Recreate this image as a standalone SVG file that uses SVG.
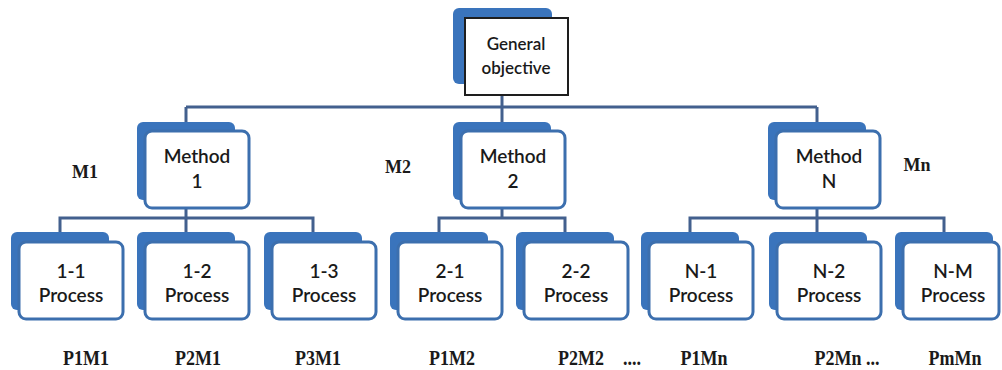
<svg xmlns="http://www.w3.org/2000/svg" width="1002" height="370" viewBox="0 0 1002 370">
  <style>
    .back { fill: #3a74bc; }
    .front { fill: #ffffff; stroke: #3c6fae; stroke-width: 3; }
    .topfront { fill: #ffffff; stroke: #1e1e1e; stroke-width: 2; }
    .conn { stroke: #43608e; stroke-width: 3; fill: none; }
    .nt { font-family: Lato, "Liberation Sans", sans-serif; font-size: 19px; font-weight: 600; fill: #1a1a1a; text-anchor: middle; }
    .gt { font-family: Lato, "Liberation Sans", sans-serif; font-size: 17px; font-weight: 600; fill: #1a1a1a; text-anchor: middle; }
    .lb { font-family: "Liberation Serif", serif; font-size: 18px; font-weight: bold; fill: #1a1a1a; text-anchor: middle; }
  </style>
  <rect width="1002" height="370" fill="#ffffff"/>

  <g id="connectors">
    <line class="conn" x1="502" y1="95" x2="502" y2="122"/>
    <line class="conn" x1="186" y1="107" x2="817" y2="107"/>
    <line class="conn" x1="186" y1="107" x2="186" y2="124"/>
    <line class="conn" x1="817" y1="107" x2="817" y2="124"/>
    <line class="conn" x1="186" y1="208" x2="186" y2="218"/>
    <line class="conn" x1="502" y1="208" x2="502" y2="218"/>
    <line class="conn" x1="817" y1="208" x2="817" y2="218"/>
    <path class="conn" d="M60 234 V218 H313 V234 M186 218 V234"/>
    <path class="conn" d="M439 234 V218 H565 V234"/>
    <path class="conn" d="M690 234 V218 H944 V234 M817 218 V234"/>
  </g>

  <g id="general">
    <rect class="back" x="453" y="8" width="99" height="76" rx="6"/>
    <rect class="topfront" x="465" y="18" width="103" height="77"/>
    <text class="gt" x="516" y="50">General</text>
    <text class="gt" x="516" y="74">objective</text>
  </g>

  <g id="method1">
    <rect class="back" x="137" y="122" width="98" height="78" rx="6"/>
    <rect class="front" x="145" y="131" width="104" height="77" rx="7"/>
    <text class="nt" x="197" y="163">Method</text>
    <text class="nt" x="197" y="188">1</text>
  </g>
  <g id="method2">
    <rect class="back" x="453" y="122" width="98" height="78" rx="6"/>
    <rect class="front" x="461" y="131" width="104" height="77" rx="7"/>
    <text class="nt" x="513" y="163">Method</text>
    <text class="nt" x="513" y="188">2</text>
  </g>
  <g id="methodN">
    <rect class="back" x="768" y="122" width="98" height="78" rx="6"/>
    <rect class="front" x="776" y="131" width="104" height="77" rx="7"/>
    <text class="nt" x="829" y="163">Method</text>
    <text class="nt" x="829" y="188">N</text>
  </g>

  <g id="p1-1">
    <rect class="back" x="11" y="232" width="98" height="78" rx="6"/>
    <rect class="front" x="19" y="242" width="104" height="77" rx="7"/>
    <text class="nt" x="71" y="278">1-1</text>
    <text class="nt" x="71" y="302">Process</text>
  </g>
  <g id="p1-2">
    <rect class="back" x="137" y="232" width="98" height="78" rx="6"/>
    <rect class="front" x="145" y="242" width="104" height="77" rx="7"/>
    <text class="nt" x="197" y="278">1-2</text>
    <text class="nt" x="197" y="302">Process</text>
  </g>
  <g id="p1-3">
    <rect class="back" x="264" y="232" width="98" height="78" rx="6"/>
    <rect class="front" x="272" y="242" width="104" height="77" rx="7"/>
    <text class="nt" x="324" y="278">1-3</text>
    <text class="nt" x="324" y="302">Process</text>
  </g>
  <g id="p2-1">
    <rect class="back" x="390" y="232" width="98" height="78" rx="6"/>
    <rect class="front" x="398" y="242" width="104" height="77" rx="7"/>
    <text class="nt" x="450" y="278">2-1</text>
    <text class="nt" x="450" y="302">Process</text>
  </g>
  <g id="p2-2">
    <rect class="back" x="516" y="232" width="98" height="78" rx="6"/>
    <rect class="front" x="524" y="242" width="104" height="77" rx="7"/>
    <text class="nt" x="576" y="278">2-2</text>
    <text class="nt" x="576" y="302">Process</text>
  </g>
  <g id="pN-1">
    <rect class="back" x="641" y="232" width="98" height="78" rx="6"/>
    <rect class="front" x="649" y="242" width="104" height="77" rx="7"/>
    <text class="nt" x="701" y="278">N-1</text>
    <text class="nt" x="701" y="302">Process</text>
  </g>
  <g id="pN-2">
    <rect class="back" x="769" y="232" width="98" height="78" rx="6"/>
    <rect class="front" x="777" y="242" width="104" height="77" rx="7"/>
    <text class="nt" x="829" y="278">N-2</text>
    <text class="nt" x="829" y="302">Process</text>
  </g>
  <g id="pN-M">
    <rect class="back" x="895" y="232" width="98" height="78" rx="6"/>
    <rect class="front" x="903" y="242" width="96" height="77" rx="7"/>
    <text class="nt" x="953" y="278">N-M</text>
    <text class="nt" x="953" y="302">Process</text>
  </g>

  <g id="labels">
    <text class="lb" x="85" y="178">M1</text>
    <text class="lb" x="398" y="173">M2</text>
    <text class="lb" x="917" y="171">Mn</text>
    <g transform="translate(0,365) scale(1,1.2)">
      <text class="lb" x="86" y="0">P1M1</text>
      <text class="lb" x="198" y="0">P2M1</text>
      <text class="lb" x="318" y="0">P3M1</text>
      <text class="lb" x="452" y="0">P1M2</text>
      <text class="lb" x="581" y="0">P2M2</text>
      <text class="lb" x="632" y="0">....</text>
      <text class="lb" x="704" y="0">P1Mn</text>
      <text class="lb" x="847" y="0">P2Mn ...</text>
      <text class="lb" x="955" y="0">PmMn</text>
    </g>
  </g>
</svg>
